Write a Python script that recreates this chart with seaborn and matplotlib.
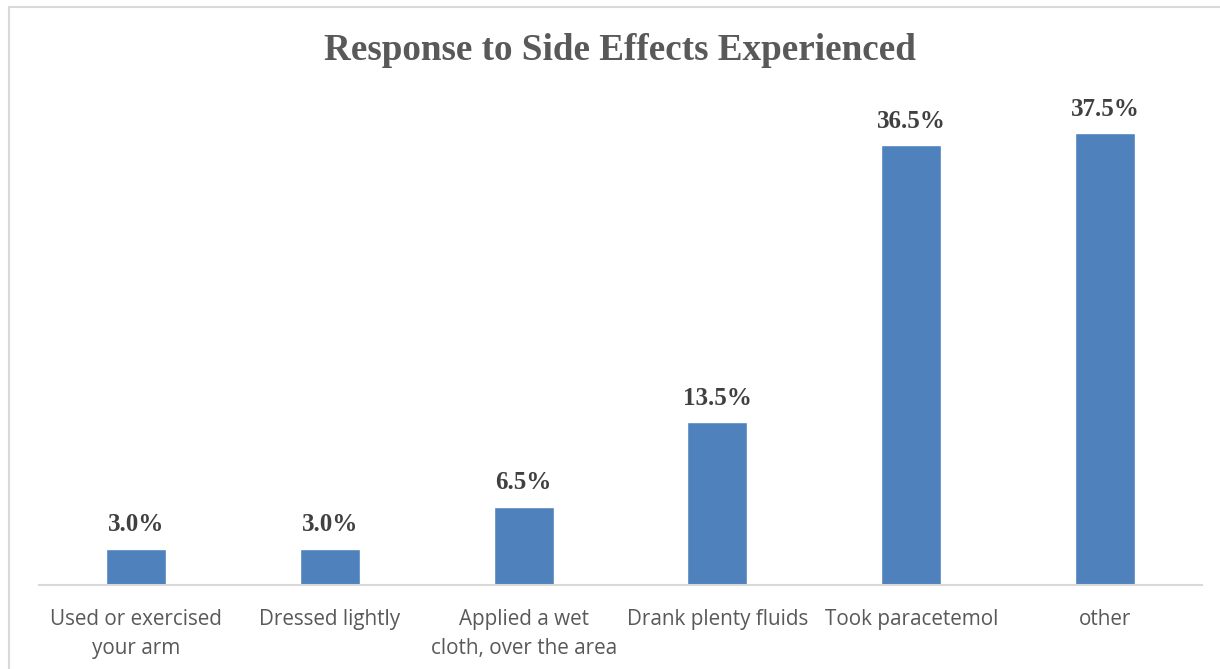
import matplotlib
matplotlib.use("Agg")
import matplotlib.pyplot as plt
import seaborn as sns
import pandas as pd
from matplotlib.patches import Rectangle

categories = ["Used or exercised\nyour arm", "Dressed lightly",
              "Applied a wet\ncloth, over the area", "Drank plenty fluids",
              "Took paracetemol", "other"]
values = [3.0, 3.0, 6.5, 13.5, 36.5, 37.5]
labels = ["3.0%", "3.0%", "6.5%", "13.5%", "36.5%", "37.5%"]

sns.set_theme(style="white")
plt.rcParams['font.family'] = ['Open Sans', 'DejaVu Sans']

df = pd.DataFrame({"cat": categories, "val": values})

fig = plt.figure(figsize=(12.2, 6.69), dpi=100)
ax = fig.add_axes([39/1220, (669-585)/669, 1163/1220, 485/669])

sns.barplot(data=df, x="cat", y="val", color="#4F81BD", saturation=1,
            width=0.31, ax=ax)

ax.set_ylim(0, 40.25)
ax.set_xlim(-0.5, len(categories) - 0.5)
ax.set_xlabel("")
ax.set_ylabel("")
ax.set_yticks([])
for s in ["top", "left", "right"]:
    ax.spines[s].set_visible(False)
ax.spines["bottom"].set_color("#D9D9D9")
ax.spines["bottom"].set_linewidth(1.5)
ax.tick_params(axis="x", length=0, pad=17.5, labelsize=14.9, labelcolor="#595959")
for t in ax.get_xticklabels():
    t.set_linespacing(1.5)

for i, (v, lab) in enumerate(zip(values, labels)):
    ax.annotate(lab, (i, v), xytext=(0, 9), textcoords="offset points",
                ha="center", va="bottom", fontsize=18, fontweight="bold",
                color="#404040", family="Liberation Serif")

fig.text(620/1220, 1 - 51/669, "Response to Side Effects Experienced",
         ha="center", va="center", fontsize=26.7, fontweight="bold",
         color="#595959", family="Liberation Serif")

fig.patches.append(Rectangle((9/1220, -0.1), 1.2, 1 - 7/669 + 0.1,
                             transform=fig.transFigure, fill=False,
                             edgecolor="#D9D9D9", linewidth=1.5))

fig.savefig("out.png", dpi=100)
